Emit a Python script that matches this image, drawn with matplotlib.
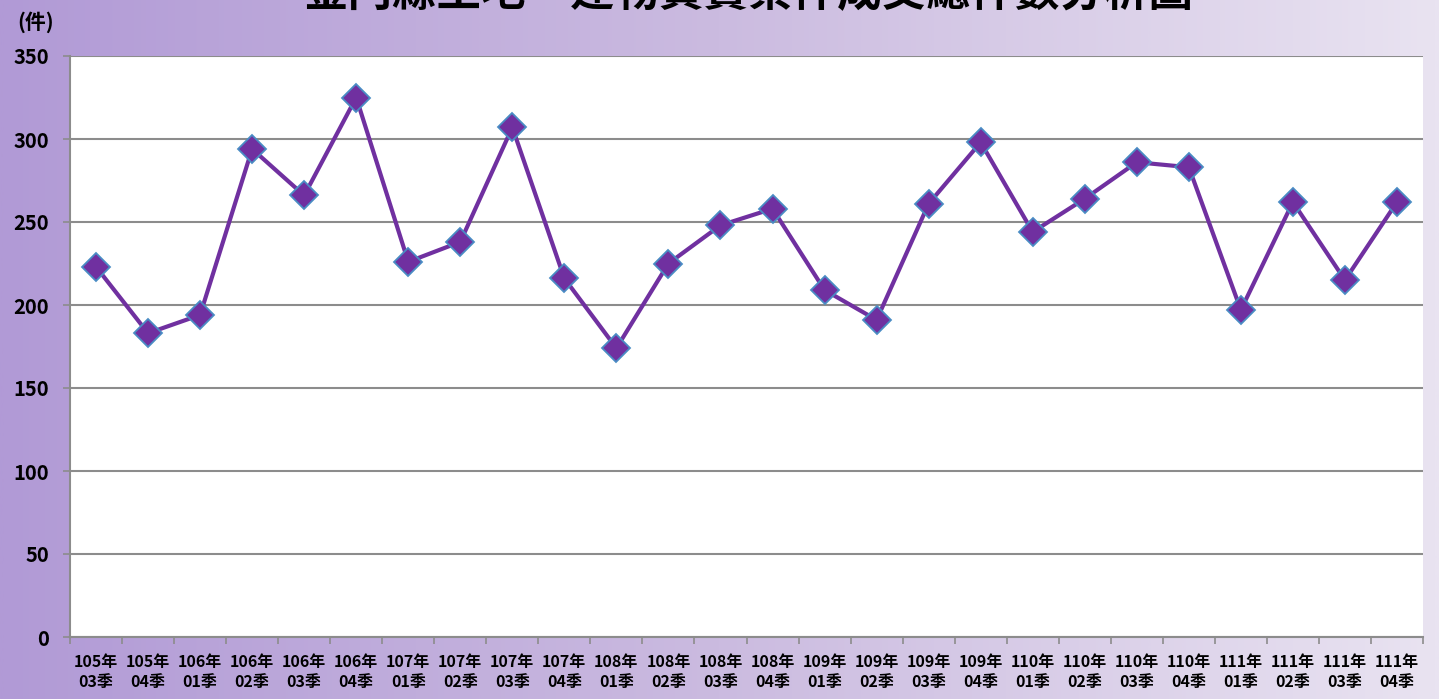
import numpy as np
import matplotlib.pyplot as plt
from matplotlib.colors import LinearSegmentedColormap

plt.rcParams['font.family'] = ['Noto Sans CJK TC', 'DejaVu Sans']

# Data
years = ['105', '105', '106', '106', '106', '106', '107', '107', '107', '107',
         '108', '108', '108', '108', '109', '109', '109', '109', '110', '110',
         '110', '110', '111', '111', '111', '111']
quarters = ['03', '04', '01', '02', '03', '04', '01', '02', '03', '04',
            '01', '02', '03', '04', '01', '02', '03', '04', '01', '02',
            '03', '04', '01', '02', '03', '04']
counts = [223, 183, 194, 294, 266, 325, 226, 238, 307, 216,
          174, 225, 248, 258, 209, 191, 261, 298, 244, 264,
          286, 283, 197, 262, 215, 262]
yticks = [0, 50, 100, 150, 200, 250, 300, 350]

labels = [f'{y}年\n{q}季' for y, q in zip(years, quarters)]

W, H = 1439, 699
fig = plt.figure(figsize=(W / 100, H / 100), dpi=100)

# Gradient background
bg = fig.add_axes([0, 0, 1, 1], zorder=-10)
cmap = LinearSegmentedColormap.from_list('bg', ['#b19ad6', '#cbbbe0', '#e9e3f1'])
grad = np.linspace(0, 1, 512)[None, :]
bg.imshow(grad, aspect='auto', cmap=cmap, extent=[0, 1, 0, 1])
bg.set_axis_off()

ax = fig.add_axes([70 / W, 1 - 637 / H, (1423 - 70) / W, (637 - 56) / H])
ax.set_facecolor('white')

x = np.arange(len(counts))
ax.plot(x, counts, color='#7030a0', lw=3.0, marker='D', markersize=14,
        markerfacecolor='#7030a0', markeredgecolor='#4a8cc4', markeredgewidth=1.3,
        zorder=3)

ax.set_xlim(-0.5, len(counts) - 0.5)
ax.set_ylim(0, 350)
ax.set_yticks(yticks)
ax.set_yticklabels([str(v) for v in yticks], fontsize=14.5, fontweight='bold')
ax.grid(axis='y', color='#8c8c8c', lw=1.5)
ax.set_axisbelow(True)

ax.set_xticks(x)
ax.set_xticklabels(labels, fontsize=11.5, fontweight='bold', linespacing=1.3)
ax.set_xticks(np.arange(-0.5, len(counts)), minor=True)
ax.tick_params(axis='x', which='major', length=0, pad=12)
ax.tick_params(axis='x', which='minor', length=5, color='#8c8c8c', width=1.2)
ax.tick_params(axis='y', length=5, color='#8c8c8c', width=1.2, pad=10)

for s in ['top', 'right']:
    ax.spines[s].set_visible(False)
for s in ['left', 'bottom']:
    ax.spines[s].set_color('#8c8c8c')
    ax.spines[s].set_linewidth(1.5)

fig.text(36 / W, 1 - 22 / H, '(件)', fontsize=15, fontweight='bold',
         ha='center', va='center')
fig.text(748 / W, 1 - 16 / H, '金門縣土地、建物買賣案件成交總件數分析圖', fontsize=32,
         fontweight='bold', ha='center', va='bottom')

fig.savefig('out.png', dpi=100)
